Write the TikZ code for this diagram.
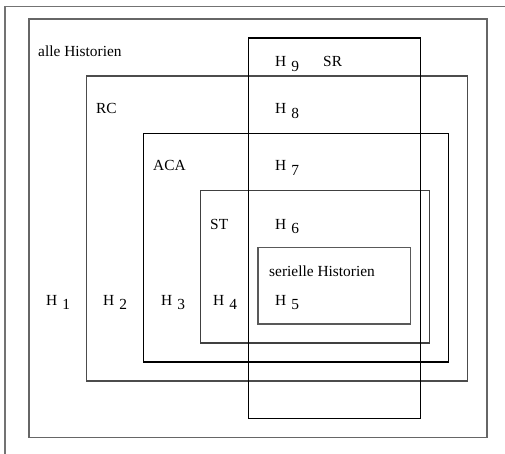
\documentclass[tikz,border=0pt]{standalone}
\usepackage{fontspec}
\setmainfont{Liberation Serif}
\begin{document}
\begin{tikzpicture}[x=1pt,y=-1pt,
  box/.style={draw=black,line width=1.1pt},
  graybox/.style={draw=black!60,line width=1.5pt},
  lbl/.style={anchor=base west,inner sep=0pt,font=\fontsize{15.4}{18}\selectfont},
  frame/.style={draw=black!55,line width=1.2pt}]
\useasboundingbox (0,0) rectangle (505,454);
% outer frame (cropped)
\coordinate (f1) at (5,454);
\coordinate (f2) at (5,6.5);
\coordinate (f3) at (505,6.5);
\draw[frame] (f1) -- (f2) -- (f3);
% boxes
\draw[graybox] (29,19) rectangle (487,437.5);
\draw[box,draw=black!70] (86.3,76) rectangle (467.7,381);
\draw[box] (143.3,133.3) rectangle (448.7,362);
\draw[box,draw=black!75] (200.3,190.3) rectangle (429.3,343);
\draw[box,draw=black!65] (258,247.7) rectangle (410.7,324);
\draw[box] (248.3,38) rectangle (420.3,418.3);
% labels
\newcommand{\hsub}[1]{H\,\,\raisebox{-4.5pt}{#1}}
\node[lbl] (alle) at (38,56.7) {alle Historien};
\node[lbl] (h9) at (275,66.7) {\hsub{9}};
\node[lbl] (sr) at (323,66.7) {SR};
\node[lbl] (rc) at (96,114) {RC};
\node[lbl] (h8) at (275,114) {\hsub{8}};
\node[lbl] (aca) at (153,170.7) {ACA};
\node[lbl] (h7) at (275,170.7) {\hsub{7}};
\node[lbl] (st) at (210,229) {ST};
\node[lbl] (h6) at (275,229) {\hsub{6}};
\node[lbl] (ser) at (269,276) {serielle Historien};
\node[lbl] (h1) at (46,305) {\hsub{1}};
\node[lbl] (h2) at (103,305) {\hsub{2}};
\node[lbl] (h3) at (161,305) {\hsub{3}};
\node[lbl] (h4) at (213,305) {\hsub{4}};
\node[lbl] (h5) at (275,305) {\hsub{5}};
\end{tikzpicture}
\end{document}
